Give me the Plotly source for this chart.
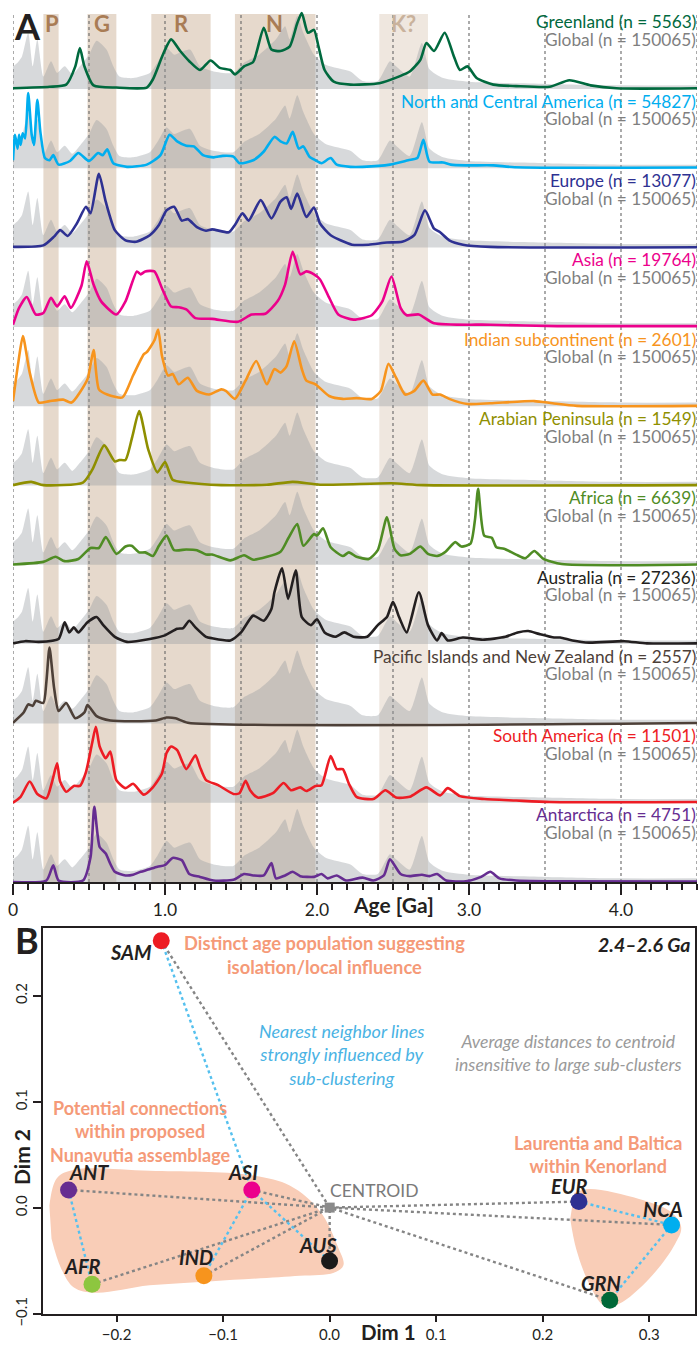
import plotly.graph_objects as go

W, H = 700, 1345

# ---------------- Panel A data ----------------
band_names = ["P", "G", "R", "N", "K?"]
band_start = [0.20, 0.49, 0.91, 1.46, 2.41]
band_end = [0.30, 0.68, 1.30, 1.99, 2.73]
band_label_age = [0.255, 0.583, 1.11, 1.72, 2.57]

global_n = 150065
global_density = [(0, 0.31), (0.03, 0.36), (0.06, 0.45), (0.1, 0.77), (0.13, 0.31), (0.16, 0.68),
                  (0.2, 0.17), (0.25, 0.38), (0.29, 0.22), (0.34, 0.31), (0.39, 0.2), (0.44, 0.31),
                  (0.5, 0.47), (0.55, 0.66), (0.615, 0.54), (0.66, 0.31), (0.7, 0.17), (0.79, 0.15),
                  (0.9, 0.22), (0.95, 0.36), (1.01, 0.56), (1.06, 0.47), (1.1, 0.5), (1.165, 0.54),
                  (1.23, 0.31), (1.32, 0.24), (1.45, 0.22), (1.52, 0.36), (1.62, 0.47), (1.73, 0.68),
                  (1.79, 0.86), (1.82, 0.68), (1.87, 1.0), (1.91, 0.77), (1.98, 0.47), (2.06, 0.33),
                  (2.22, 0.24), (2.3, 0.11), (2.4, 0.11), (2.48, 0.38), (2.52, 0.31), (2.61, 0.17),
                  (2.69, 0.63), (2.74, 0.27), (2.83, 0.15), (3.0, 0.1), (3.5, 0.07), (4.0, 0.05), (4.5, 0.05)]

region_names = ["Greenland", "North and Central America", "Europe", "Asia", "Indian subcontinent",
                "Arabian Peninsula", "Africa", "Australia", "Pacific Islands and New Zealand",
                "South America", "Antarctica"]
region_n = [5563, 54827, 13077, 19764, 2601, 1549, 6639, 27236, 2557, 11501, 4751]
region_colors = ["#00693e", "#00aeef", "#2e3192", "#ec008c", "#f7941d", "#8f8f00", "#4f8c24",
                 "#231f20", "#4d4038", "#ed1c24", "#662d91"]

greenland = [(0, 0.01), (0.24, 0.03), (0.35, 0.06), (0.41, 0.31), (0.44, 0.56), (0.47, 0.31), (0.53, 0.05),
             (0.68, 0.02), (0.88, 0.02), (0.92, 0.13), (0.99, 0.49), (1.04, 0.68), (1.1, 0.52), (1.16, 0.38),
             (1.23, 0.26), (1.30, 0.39), (1.36, 0.29), (1.43, 0.26), (1.46, 0.2), (1.52, 0.31), (1.58, 0.37),
             (1.65, 0.84), (1.70, 0.54), (1.76, 0.52), (1.82, 0.58), (1.87, 0.9), (1.90, 1.04), (1.94, 0.77),
             (1.98, 0.81), (2.01, 0.58), (2.05, 0.26), (2.11, 0.1), (2.22, 0.06), (2.41, 0.08), (2.55, 0.18),
             (2.61, 0.24), (2.68, 0.4), (2.72, 0.63), (2.77, 0.52), (2.84, 0.77), (2.90, 0.45), (2.94, 0.26),
             (2.99, 0.31), (3.05, 0.15), (3.16, 0.06), (3.31, 0.04), (3.53, 0.03), (3.66, 0.12), (3.80, 0.05),
             (3.97, 0.01), (4.5, 0.01)]
north_central_america = [(0, 0.11), (0.013, 0.46), (0.03, 0.27), (0.04, 0.46), (0.05, 0.32), (0.064, 0.48),
                         (0.08, 0.41), (0.1, 1.03), (0.123, 0.46), (0.138, 0.32), (0.16, 0.94), (0.18, 0.5),
                         (0.21, 0.14), (0.24, 0.11), (0.265, 0.18), (0.30, 0.05), (0.375, 0.1), (0.43, 0.21),
                         (0.50, 0.1), (0.56, 0.21), (0.59, 0.18), (0.62, 0.26), (0.66, 0.07), (0.75, 0.02),
                         (0.88, 0.05), (0.97, 0.18), (1.03, 0.46), (1.08, 0.37), (1.14, 0.31), (1.19, 0.3),
                         (1.25, 0.18), (1.32, 0.15), (1.38, 0.17), (1.45, 0.16), (1.49, 0.07), (1.58, 0.11),
                         (1.65, 0.23), (1.72, 0.43), (1.76, 0.37), (1.80, 0.34), (1.84, 0.5), (1.88, 0.27),
                         (1.91, 0.3), (1.95, 0.16), (1.99, 0.11), (2.03, 0.07), (2.09, 0.14), (2.13, 0.05),
                         (2.22, 0.02), (2.30, 0.02), (2.48, 0.05), (2.60, 0.11), (2.66, 0.14), (2.70, 0.39),
                         (2.74, 0.09), (2.83, 0.08), (2.88, 0.05), (2.98, 0.04), (3.16, 0.04), (3.3, 0.015),
                         (4.5, 0.01)]
europe = [(0, 0.01), (0.2, 0.03), (0.27, 0.15), (0.31, 0.24), (0.36, 0.16), (0.42, 0.33), (0.48, 0.56),
          (0.51, 0.47), (0.565, 1.01), (0.61, 0.63), (0.67, 0.24), (0.74, 0.1), (0.81, 0.08), (0.9, 0.17),
          (0.96, 0.31), (1.01, 0.51), (1.06, 0.56), (1.11, 0.37), (1.15, 0.39), (1.21, 0.28), (1.27, 0.23),
          (1.31, 0.25), (1.42, 0.21), (1.46, 0.31), (1.51, 0.47), (1.55, 0.37), (1.63, 0.65), (1.70, 0.4),
          (1.76, 0.63), (1.80, 0.69), (1.83, 0.53), (1.87, 0.74), (1.93, 0.42), (1.98, 0.55), (2.02, 0.33),
          (2.09, 0.17), (2.23, 0.04), (2.34, 0.04), (2.46, 0.07), (2.56, 0.08), (2.64, 0.17), (2.71, 0.51),
          (2.77, 0.26), (2.81, 0.21), (2.87, 0.1), (2.96, 0.04), (3.14, 0.01), (4.5, 0.005)]
asia = [(0, 0.03), (0.04, 0.26), (0.09, 0.41), (0.15, 0.17), (0.2, 0.19), (0.25, 0.4), (0.29, 0.28),
        (0.34, 0.42), (0.38, 0.26), (0.45, 0.56), (0.485, 0.9), (0.53, 0.58), (0.58, 0.35), (0.68, 0.17),
        (0.74, 0.35), (0.815, 0.76), (0.84, 0.72), (0.87, 0.76), (0.93, 0.76), (0.98, 0.53), (1.04, 0.28),
        (1.09, 0.27), (1.14, 0.24), (1.2, 0.12), (1.31, 0.11), (1.48, 0.07), (1.57, 0.17), (1.66, 0.18),
        (1.74, 0.35), (1.79, 0.58), (1.84, 1.03), (1.89, 0.72), (1.93, 0.76), (1.98, 0.72), (2.02, 0.65),
        (2.08, 0.4), (2.14, 0.17), (2.24, 0.1), (2.36, 0.16), (2.43, 0.35), (2.49, 0.69), (2.55, 0.26),
        (2.59, 0.16), (2.67, 0.17), (2.77, 0.05), (3.14, 0.03), (3.58, 0.01), (4.5, 0.01)]
indian_subcontinent = [(0, 0.07), (0.035, 0.6), (0.065, 0.96), (0.11, 0.46), (0.17, 0.05), (0.24, 0.07),
                       (0.33, 0.09), (0.385, 0.05), (0.49, 0.37), (0.53, 0.77), (0.565, 0.23), (0.62, 0.16),
                       (0.72, 0.12), (0.79, 0.42), (0.86, 0.71), (0.88, 0.74), (0.93, 0.9), (0.955, 1.05),
                       (0.98, 0.69), (1.02, 0.42), (1.05, 0.44), (1.09, 0.3), (1.15, 0.39), (1.21, 0.21),
                       (1.29, 0.16), (1.37, 0.23), (1.40, 0.21), (1.46, 0.1), (1.53, 0.35), (1.6, 0.62),
                       (1.67, 0.3), (1.72, 0.51), (1.76, 0.46), (1.8, 0.55), (1.85, 0.89), (1.9, 0.51),
                       (1.93, 0.35), (1.99, 0.3), (2.08, 0.14), (2.17, 0.1), (2.26, 0.11), (2.36, 0.1),
                       (2.42, 0.21), (2.47, 0.58), (2.52, 0.39), (2.58, 0.16), (2.64, 0.21), (2.70, 0.35),
                       (2.76, 0.16), (2.81, 0.16), (2.87, 0.1), (2.99, 0.03), (3.14, 0.04), (3.43, 0.07),
                       (3.55, 0.04), (3.71, 0.005), (4.5, 0.005)]
arabian_peninsula = [(0, 0.005), (0.12, 0.05), (0.2, 0.005), (0.46, 0.04), (0.52, 0.21), (0.6, 0.55),
                     (0.67, 0.33), (0.7, 0.35), (0.74, 0.35), (0.785, 0.67), (0.83, 1.02), (0.89, 0.49),
                     (0.95, 0.18), (1.0, 0.32), (1.05, 0.08), (1.14, 0.04), (1.37, 0.005), (1.67, 0.01),
                     (1.84, 0.05), (2.02, 0.01), (2.49, 0.03), (2.7, 0.005), (4.5, 0.005)]
africa = [(0, 0.005), (0.2, 0.04), (0.28, 0.11), (0.34, 0.05), (0.43, 0.08), (0.51, 0.23), (0.565, 0.23),
          (0.61, 0.38), (0.68, 0.15), (0.74, 0.25), (0.78, 0.26), (0.83, 0.17), (0.87, 0.17), (0.92, 0.12),
          (0.96, 0.26), (1.01, 0.4), (1.06, 0.2), (1.14, 0.21), (1.21, 0.2), (1.27, 0.14), (1.31, 0.14),
          (1.43, 0.06), (1.52, 0.13), (1.58, 0.07), (1.76, 0.18), (1.81, 0.36), (1.87, 0.56), (1.91, 0.26),
          (1.98, 0.42), (2.0, 0.4), (2.04, 0.5), (2.09, 0.24), (2.17, 0.12), (2.21, 0.17), (2.26, 0.11),
          (2.34, 0.08), (2.40, 0.2), (2.46, 0.65), (2.51, 0.22), (2.55, 0.13), (2.61, 0.15), (2.68, 0.25),
          (2.73, 0.15), (2.79, 0.12), (2.84, 0.17), (2.91, 0.31), (2.95, 0.25), (3.01, 0.29), (3.04, 0.63),
          (3.06, 1.04), (3.1, 0.4), (3.15, 0.37), (3.18, 0.24), (3.23, 0.22), (3.31, 0.14), (3.37, 0.09),
          (3.43, 0.19), (3.49, 0.08), (3.61, 0.01), (4.5, 0.005)]
australia = [(0, 0.01), (0.08, 0.04), (0.17, 0.03), (0.3, 0.07), (0.34, 0.3), (0.37, 0.16), (0.4, 0.23),
             (0.43, 0.16), (0.49, 0.3), (0.55, 0.37), (0.59, 0.27), (0.67, 0.1), (0.75, 0.03), (0.9, 0.07),
             (1.0, 0.12), (1.08, 0.21), (1.12, 0.22), (1.16, 0.32), (1.2, 0.23), (1.27, 0.1), (1.31, 0.08),
             (1.43, 0.05), (1.5, 0.16), (1.58, 0.39), (1.65, 0.32), (1.7, 0.48), (1.72, 0.71), (1.77, 1.04),
             (1.81, 0.62), (1.86, 1.01), (1.9, 0.37), (1.96, 0.26), (2.0, 0.34), (2.05, 0.16), (2.12, 0.1),
             (2.18, 0.16), (2.24, 0.1), (2.33, 0.1), (2.4, 0.26), (2.46, 0.37), (2.5, 0.58), (2.54, 0.37),
             (2.59, 0.16), (2.67, 0.71), (2.73, 0.26), (2.79, 0.05), (2.82, 0.15), (2.86, 0.05), (2.96, 0.09),
             (3.09, 0.06), (3.24, 0.1), (3.32, 0.16), (3.39, 0.18), (3.46, 0.14), (3.56, 0.09), (3.6, 0.09),
             (3.68, 0.05), (3.79, 0.02), (4.02, 0.04), (4.17, 0.01), (4.5, 0.01)]
pacific_nz = [(0, 0.01), (0.07, 0.15), (0.1, 0.26), (0.13, 0.24), (0.15, 0.31), (0.2, 0.28), (0.22, 0.58),
              (0.24, 1.04), (0.27, 0.49), (0.3, 0.17), (0.35, 0.28), (0.41, 0.07), (0.47, 0.15), (0.49, 0.25),
              (0.55, 0.1), (0.64, 0.04), (0.79, 0.03), (0.94, 0.04), (1.01, 0.08), (1.07, 0.07), (1.15, 0.01),
              (4.5, 0.005)]
south_america = [(0, 0.0), (0.05, 0.08), (0.11, 0.29), (0.16, 0.12), (0.22, 0.06), (0.26, 0.31), (0.29, 0.54),
                 (0.31, 0.29), (0.35, 0.15), (0.4, 0.23), (0.44, 0.23), (0.48, 0.42), (0.52, 0.81), (0.545, 1.04),
                 (0.57, 0.77), (0.61, 0.61), (0.64, 0.7), (0.68, 0.31), (0.74, 0.2), (0.79, 0.26), (0.86, 0.11),
                 (0.92, 0.21), (0.98, 0.4), (1.01, 0.68), (1.04, 0.77), (1.08, 0.72), (1.14, 0.46), (1.2, 0.65),
                 (1.23, 0.49), (1.27, 0.31), (1.35, 0.24), (1.45, 0.12), (1.49, 0.13), (1.53, 0.3), (1.56, 0.17),
                 (1.61, 0.07), (1.71, 0.13), (1.78, 0.27), (1.83, 0.17), (1.89, 0.21), (1.93, 0.16), (1.99, 0.23),
                 (2.03, 0.24), (2.09, 0.64), (2.13, 0.46), (2.17, 0.46), (2.21, 0.26), (2.26, 0.08), (2.37, 0.05),
                 (2.45, 0.17), (2.52, 0.07), (2.61, 0.08), (2.72, 0.21), (2.81, 0.1), (2.86, 0.2), (2.94, 0.09),
                 (3.1, 0.05), (3.31, 0.03), (3.53, 0.01), (4.5, 0.01)]
antarctica = [(0, 0.0), (0.22, 0.02), (0.265, 0.23), (0.3, 0.02), (0.46, 0.02), (0.51, 0.34), (0.535, 1.03),
              (0.57, 0.48), (0.61, 0.39), (0.64, 0.25), (0.67, 0.14), (0.74, 0.09), (0.79, 0.1), (0.84, 0.14),
              (0.89, 0.17), (0.95, 0.21), (1.0, 0.23), (1.05, 0.33), (1.11, 0.3), (1.16, 0.11), (1.23, 0.07),
              (1.32, 0.02), (1.45, 0.03), (1.52, 0.11), (1.58, 0.09), (1.65, 0.09), (1.7, 0.26), (1.73, 0.05),
              (1.79, 0.09), (1.84, 0.14), (1.89, 0.08), (1.98, 0.07), (2.03, 0.11), (2.07, 0.05), (2.13, 0.09),
              (2.19, 0.02), (2.3, 0.06), (2.37, 0.02), (2.44, 0.09), (2.48, 0.31), (2.55, 0.11), (2.61, 0.08),
              (2.69, 0.1), (2.74, 0.08), (2.79, 0.11), (2.85, 0.02), (2.98, 0.01), (3.08, 0.07), (3.14, 0.14),
              (3.2, 0.05), (3.31, 0.02), (3.53, 0.01), (4.5, 0.005)]
region_curves = [greenland, north_central_america, europe, asia, indian_subcontinent, arabian_peninsula,
                 africa, australia, pacific_nz, south_america, antarctica]

x_tick_vals = [0, 1, 2, 3, 4]
x_tick_text = ["0", "1.0", "2.0", "3.0", "4.0"]

# ---------------- Panel B data ----------------
mds_labels = ["SAM", "ANT", "ASI", "AUS", "IND", "AFR", "EUR", "NCA", "GRN"]
mds_dim1 = [-0.158, -0.245, -0.073, 0.000, -0.118, -0.223, 0.234, 0.321, 0.263]
mds_dim2 = [0.252, 0.017, 0.017, -0.050, -0.064, -0.072, 0.006, -0.016, -0.087]
mds_colors = ["#ed1c24", "#662d91", "#ec008c", "#1a1a1a", "#f7941d", "#8dc63f", "#2e3192", "#00aeef", "#006838"]
nearest_pairs = [("SAM", "ASI"), ("ASI", "AUS"), ("ASI", "IND"), ("ANT", "AFR"), ("EUR", "NCA"), ("NCA", "GRN")]
hull_left = [(-0.263, 0.002), (-0.256, 0.028), (-0.240, 0.036), (-0.169, 0.035), (-0.075, 0.031),
             (-0.037, 0.021), (-0.009, -0.003), (0.008, -0.037), (0.013, -0.054), (0.004, -0.061),
             (-0.028, -0.064), (-0.110, -0.069), (-0.169, -0.073), (-0.220, -0.080), (-0.240, -0.075),
             (-0.252, -0.057), (-0.261, -0.029)]
hull_right = [(0.2296, 0.0141), (0.2437, 0.0179), (0.2905, 0.0085), (0.3205, -0.0038), (0.330, -0.018),
              (0.3243, -0.0339), (0.300, -0.0668), (0.2718, -0.0903), (0.2577, -0.0922), (0.2437, -0.0715),
              (0.2315, -0.0386), (0.2259, -0.0103)]
# label offsets (px) relative to each point
label_dx = [-30, 20, -9, -12, -8, -10, -9, -9, -9]
label_dy = [-11, 18, 18, 16, 19, 18, 16, 16, 17]

FONT = "Lato"


def fx(px):
    return px / W


def fy(px):
    return 1 - px / H


AXIS_PX = 882
ROW0 = 89
ROWSTEP = 79.3
AMP = 73

fig = go.Figure()

# grey global density fills
for k in range(len(region_names)):
    base = AXIS_PX - (ROW0 + ROWSTEP * k)
    fig.add_trace(go.Scatter(x=[0, 4.5], y=[base, base], mode="lines", line=dict(width=0),
                             showlegend=False, hoverinfo="skip", xaxis="x", yaxis="y"))
    fig.add_trace(go.Scatter(x=[a for a, v in global_density], y=[base + AMP * v for a, v in global_density],
                             mode="lines", fill="tonexty", fillcolor="rgba(150,154,160,0.38)",
                             line=dict(width=0, shape="spline", smoothing=0.6),
                             showlegend=False, hoverinfo="skip", xaxis="x", yaxis="y"))

# regional curves
for k, (curve, col) in enumerate(zip(region_curves, region_colors)):
    base = AXIS_PX - (ROW0 + ROWSTEP * k)
    fig.add_trace(go.Scatter(x=[a for a, v in curve], y=[base + AMP * v for a, v in curve], mode="lines",
                             line=dict(color=col, width=2.6, shape="spline", smoothing=0.6),
                             showlegend=False, hoverinfo="skip", xaxis="x", yaxis="y"))

shapes = []
for nm, s, e in zip(band_names, band_start, band_end):
    shapes.append(dict(type="rect", xref="x", yref="y", x0=s, x1=e, y0=0, y1=868, layer="below",
                       line=dict(width=0), fillcolor="#efe7df" if nm == "K?" else "#e6d9cc"))
for i in range(10):
    a = 0.5 * i
    shapes.append(dict(type="line", xref="x", yref="y", x0=a, x1=a, y0=0, y1=868, layer="below",
                       line=dict(color="#666666", width=1.1, dash="3px,3px")))

annotations = []
for nm, a in zip(band_names, band_label_age):
    annotations.append(dict(x=a, y=fy(23), xref="x", yref="paper", text="<b>%s</b>" % nm, showarrow=False,
                            font=dict(family=FONT, size=22, color="#c9b29c" if nm == "K?" else "#a97c55"),
                            xanchor="center", yanchor="middle"))
for k, (nm, n, col) in enumerate(zip(region_names, region_n, region_colors)):
    bpx = ROW0 + ROWSTEP * k
    annotations.append(dict(x=fx(698), y=fy(bpx - 67), xref="paper", yref="paper",
                            text="%s (n = %d)" % (nm, n), showarrow=False, xanchor="right", yanchor="middle",
                            font=dict(family=FONT, size=17.3, color=col)))
    annotations.append(dict(x=fx(698), y=fy(bpx - 49.5), xref="paper", yref="paper",
                            text="Global (n = %d)" % global_n, showarrow=False, xanchor="right",
                            yanchor="middle", font=dict(family=FONT, size=17.3, color="#7f7f7f")))
annotations.append(dict(x=fx(27), y=fy(26), xref="paper", yref="paper", text="<b>A</b>", showarrow=False,
                        font=dict(family=FONT, size=36, color="#231f20"), xanchor="center", yanchor="middle"))
annotations.append(dict(x=fx(393), y=fy(904), xref="paper", yref="paper", text="<b>Age [Ga]</b>",
                        showarrow=False, font=dict(family=FONT, size=21, color="#231f20"),
                        xanchor="center", yanchor="middle"))

# ---------------- Panel B traces ----------------
fig.add_trace(go.Scatter(x=[p[0] for p in hull_left], y=[p[1] for p in hull_left], fill="toself",
                         fillcolor="#f9cdb7", mode="lines", line=dict(width=0, shape="spline", smoothing=1.0),
                         showlegend=False, hoverinfo="skip", xaxis="x2", yaxis="y2"))
fig.add_trace(go.Scatter(x=[p[0] for p in hull_right], y=[p[1] for p in hull_right], fill="toself",
                         fillcolor="#f9cdb7", mode="lines", line=dict(width=0, shape="spline", smoothing=1.0),
                         showlegend=False, hoverinfo="skip", xaxis="x2", yaxis="y2"))

cx = sum(mds_dim1) / len(mds_dim1)
cy = sum(mds_dim2) / len(mds_dim2)
for d1, d2 in zip(mds_dim1, mds_dim2):
    fig.add_trace(go.Scatter(x=[d1, cx], y=[d2, cy], mode="lines",
                             line=dict(color="#858585", width=2.4, dash="dot"),
                             showlegend=False, hoverinfo="skip", xaxis="x2", yaxis="y2"))
idx = {lab: i for i, lab in enumerate(mds_labels)}
for a, b in nearest_pairs:
    fig.add_trace(go.Scatter(x=[mds_dim1[idx[a]], mds_dim1[idx[b]]], y=[mds_dim2[idx[a]], mds_dim2[idx[b]]],
                             mode="lines", line=dict(color="#55c0ee", width=2.4, dash="dot"),
                             showlegend=False, hoverinfo="skip", xaxis="x2", yaxis="y2"))
fig.add_trace(go.Scatter(x=[cx], y=[cy], mode="markers", marker=dict(symbol="square", size=10, color="#8a8a8a"),
                         showlegend=False, hoverinfo="skip", xaxis="x2", yaxis="y2"))
fig.add_trace(go.Scatter(x=mds_dim1, y=mds_dim2, mode="markers",
                         marker=dict(size=17, color=mds_colors, line=dict(width=0)),
                         showlegend=False, hoverinfo="skip", xaxis="x2", yaxis="y2"))

for lab, d1, d2, dx, dy in zip(mds_labels, mds_dim1, mds_dim2, label_dx, label_dy):
    annotations.append(dict(x=d1, y=d2, xref="x2", yref="y2", text="<b><i>%s</i></b>" % lab, showarrow=False,
                            xshift=dx, yshift=dy, font=dict(family=FONT, size=20, color="#231f20"),
                            xanchor="center", yanchor="middle"))
annotations.append(dict(x=cx, y=cy, xref="x2", yref="y2", text="CENTROID", showarrow=False, xshift=-2,
                        yshift=17, xanchor="left", yanchor="middle",
                        font=dict(family=FONT, size=17.5, color="#7a7a7a")))

salmon = "#f59a78"


def note(px_x, px_y, text, color, size, anchor="center"):
    annotations.append(dict(x=fx(px_x), y=fy(px_y), xref="paper", yref="paper", text=text, showarrow=False,
                            xanchor=anchor, yanchor="middle", align=anchor,
                            font=dict(family=FONT, size=size, color=color)))


note(324, 955, "<b>Distinct age population suggesting<br>isolation/local influence</b>", salmon, 18.3)
note(342, 1054, "<i>Nearest neighbor lines<br>strongly influenced by<br>sub-clustering</i>", "#4ab3e4", 18)
note(568, 1053, "<i>Average distances to centroid<br>insensitive to large sub-clusters</i>", "#9a9a9a", 17.6)
note(140, 1131, "<b>Potential connections<br>within proposed<br>Nunavutia assemblage</b>", salmon, 18)
note(598, 1154, "<b>Laurentia and Baltica<br>within Kenorland</b>", salmon, 18)
note(692, 944, "<b><i>2.4–2.6 Ga</i></b>", "#231f20", 19.5, anchor="right")
note(27, 940, "<b>B</b>", "#231f20", 36)
note(388, 1332, "<b>Dim 1</b>", "#231f20", 20.5)
annotations.append(dict(x=fx(21), y=fy(1157), xref="paper", yref="paper", text="<b>Dim 2</b>", showarrow=False,
                        textangle=-90, xanchor="center", yanchor="middle",
                        font=dict(family=FONT, size=21, color="#231f20")))

axis_font = dict(family=FONT, size=15, color="#231f20")
fig.update_layout(
    width=W, height=H, margin=dict(l=0, r=0, t=0, b=0, autoexpand=False), paper_bgcolor="white",
    plot_bgcolor="rgba(0,0,0,0)",
    showlegend=False, shapes=shapes, annotations=annotations,
    xaxis=dict(domain=[fx(13), fx(697)], range=[0, 4.5], anchor="y", showline=True, linewidth=2,
               linecolor="#231f20", ticks="outside", ticklen=11, tickwidth=2, tickcolor="#231f20",
               tickmode="array", tickvals=x_tick_vals, ticktext=x_tick_text, showgrid=False, zeroline=False,
               automargin=False, tickfont=dict(family=FONT, size=17.5, color="#231f20"),
               minor=dict(tickmode="linear", tick0=0, dtick=0.1, ticks="outside", ticklen=6, tickwidth=1.5,
                          tickcolor="#231f20", showgrid=False)),
    yaxis=dict(domain=[fy(AXIS_PX), fy(2)], range=[0, 880], visible=False, anchor="x", automargin=False),
    xaxis2=dict(domain=[fx(43), fx(695)], range=[-0.269, 0.343], anchor="y2", showline=True, mirror=True,
                linewidth=2, linecolor="#231f20", ticks="outside", ticklen=6, tickwidth=2, tickcolor="#231f20",
                tickmode="array", tickvals=[-0.2, -0.1, 0.0, 0.1, 0.2, 0.3],
                ticktext=["−0.2", "−0.1", "0.0", "0.1", "0.2", "0.3"], showgrid=False, zeroline=False,
                automargin=False, tickfont=axis_font),
    yaxis2=dict(domain=[fy(1314), fy(928)], range=[-0.1, 0.264], anchor="x2", showline=True, mirror=True,
                linewidth=2, linecolor="#231f20", ticks="outside", ticklen=8, tickwidth=2, tickcolor="#231f20",
                tickmode="array", tickvals=[-0.1, 0.0, 0.1, 0.2], ticktext=["−0.1", "0.0", "0.1", "0.2"],
                tickangle=-90, showgrid=False, zeroline=False, automargin=False, tickfont=axis_font),
)

fig.write_html("out.html", config={"displayModeBar": False},
               post_script="document.body.style.margin='0px';document.body.style.overflow='hidden';")
